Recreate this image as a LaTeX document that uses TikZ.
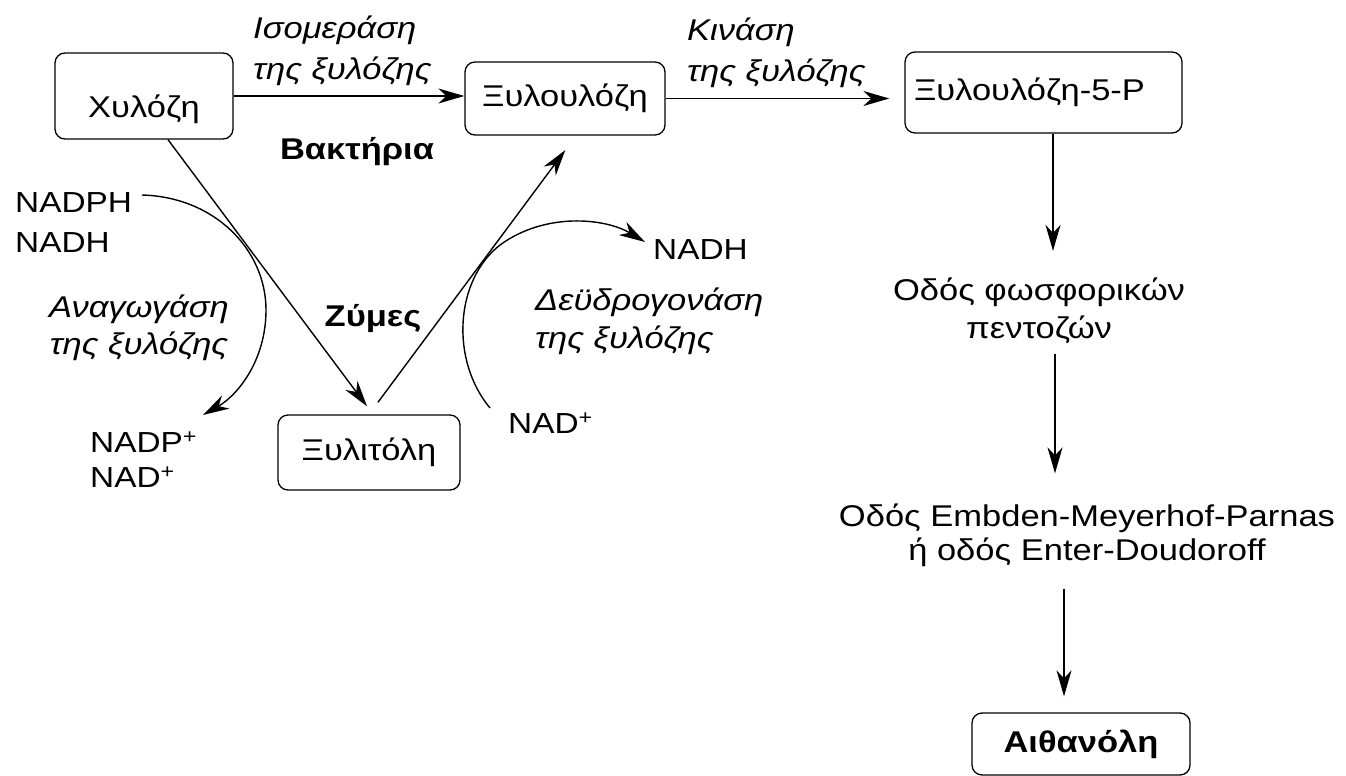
\documentclass[tikz,border=0pt]{standalone}
\usepackage{fontspec}
\setmainfont{Liberation Sans}[FakeStretch=1.15]
\usetikzlibrary{arrows.meta,calc}
\begin{document}
\begin{tikzpicture}[x=1pt,y=-1pt,
  every node/.style={font=\fontsize{30}{38}\selectfont, inner sep=0pt},
  box/.style={draw, rounded corners=10pt, line width=1.3pt},
  arr/.style={line width=1.4pt, -{Stealth[length=26pt,width=15pt,inset=8pt]}},
  enz/.style={font=\fontsize{30}{41}\selectfont\itshape, align=left},
  org/.style={font=\fontsize{30}{38}\selectfont\bfseries},
  cof/.style={align=left}
]
\path[use as bounding box] (0,0) rectangle (1346,776);

% substrates and products
\node[box, minimum width=178pt, minimum height=86pt, text height=50pt, text depth=8pt] (xyl) at (144,96) {Χυλόζη};
\node[box, minimum width=200pt, minimum height=73pt] (xlu) at (565,98.5) {Ξυλουλόζη};
\node[box, minimum width=277pt, minimum height=81pt, text height=30pt, text depth=14pt,
      text width=259pt, align=left] (x5p) at (1043.5,92.5) {Ξυλουλόζη-5-P};
\node[box, minimum width=182pt, minimum height=75pt] (xlt) at (369,452.5) {Ξυλιτόλη};
\node[box, org, minimum width=218pt, minimum height=62pt] (eth) at (1081,744) {Αιθανόλη};

% pathways
\node[align=center] (ppp) at (1039,311) {Οδός φωσφορικών\\πεντοζών};
\node[align=center, font=\fontsize{30}{34}\selectfont] (emp) at (1087,535) {Οδός Embden-Meyerhof-Parnas\\ή οδός Enter-Doudoroff};

% enzymes
\node[enz, anchor=west] (iso) at (253,51) {Ισομεράση\\της ξυλόζης};
\node[enz, anchor=west] (kin) at (687,53) {Κινάση\\της ξυλόζης};
\node[enz, align=center, font=\fontsize{30}{37}\selectfont\itshape] (red) at (139,328) {Αναγωγάση\\της ξυλόζης};
\node[enz, anchor=west, font=\fontsize{30}{38}\selectfont\itshape] (deh) at (535,321) {Δεϋδρογονάση\\της ξυλόζης};

% organisms
\node[org] (bak) at (357,152) {Βακτήρια};
\node[org] (zym) at (373,318) {Ζύμες};

% cofactors
\node[cof, anchor=west, font=\fontsize{29}{40}\selectfont] (nadph) at (15,223) {NADPH\\NADH};
\node[cof, anchor=west, font=\fontsize{29}{35}\selectfont] (nadp) at (90,460) {NADP\textsuperscript{+}\\NAD\textsuperscript{+}};
\node[anchor=west, font=\fontsize{29}{35}\selectfont] (nadr) at (508,423) {NAD\textsuperscript{+}};
\node[anchor=west, font=\fontsize{29}{35}\selectfont] (nadhr) at (653,250) {NADH};

% main conversions
\draw[arr] (xyl.east) -- (xyl.east -| xlu.west);
\draw[arr, shorten >=15pt] (xlu.east) -- (xlu.east -| x5p.west);
\draw[arr, shorten >=10pt] ($(xyl.south)+(24,0)$) -- ($(xlt.north)+(4,0)$);
\draw[arr, shorten <=15pt, shorten >=18pt] (xlt.north) -- ($(xlu.south)+(11,0)$);

% downstream pathway
\coordinate (v1) at ($(x5p.south)+(9.5,0)$);
\coordinate (v2) at ($(ppp.south)+(16,0)$);
\coordinate (v3) at ($(emp.south)+(-23,0)$);
\draw[arr, shorten >=27pt] (v1) -- (v1 |- ppp.north);
\draw[arr, shorten <=10pt, shorten >=30pt] (v2) -- (v2 |- emp.north);
\draw[arr, shorten <=22pt, shorten >=16pt] (v3) -- (v3 |- eth.north);

% cofactor loops
\coordinate (l0) at (142,195);
\coordinate (l1) at (203,415);
\draw[arr] (l0) .. controls (215,197) and (266,250) .. (266,310)
               .. controls (266,360) and (238,395) .. (l1);
\coordinate (r0) at (490,408);
\coordinate (r1) at (645,242);
\draw[arr] (r0) .. controls (450,360) and (455,280) .. (500,245)
               .. controls (545,212) and (605,218) .. (r1);
\end{tikzpicture}
\end{document}
